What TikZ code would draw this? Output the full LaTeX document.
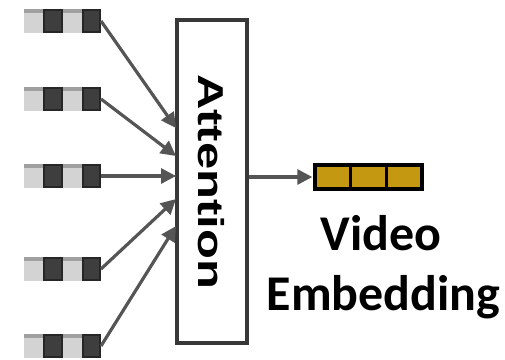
\documentclass[tikz,border=0pt]{standalone}
\usepackage{fontspec}
\usetikzlibrary{arrows.meta}
\newfontfamily\labelfont{Carlito}
\newfontfamily\boxfont{Liberation Sans}
\definecolor{lightcell}{HTML}{D3D3D3}
\definecolor{darkcell}{HTML}{3E3E3E}
\definecolor{edgegray}{HTML}{262626}
\definecolor{arrowgray}{HTML}{555555}
\definecolor{boxgray}{HTML}{383838}
\definecolor{gold}{HTML}{C59812}
\tikzset{
  tokenrow/.style={minimum width=77pt, minimum height=24pt, inner sep=0pt, outer sep=0pt,
    path picture={
      \foreach \k in {0,1,2,3}{
        \pgfmathtruncatemacro{\odd}{mod(\k,2)}
        \ifnum\odd=0
          \fill[lightcell] ([xshift=\k*19.25pt]path picture bounding box.south west) rectangle ++(19.25pt,24pt);
          \fill[gray!75] ([xshift=\k*19.25pt]path picture bounding box.north west) rectangle ++(19.25pt,-3.5pt);
        \else
          \fill[darkcell] ([xshift=\k*19.25pt]path picture bounding box.south west) rectangle ++(19.25pt,24pt);
          \draw[edgegray, line width=2pt] ([xshift=\k*19.25pt+1pt, yshift=1pt]path picture bounding box.south west) rectangle ++(17.25pt,22pt);
        \fi
      }
    }},
  featarrow/.style={draw=arrowgray, line width=3.2pt, -{Triangle[length=15pt, width=15pt]}},
  attbox/.style={draw=boxgray, line width=3.2pt, fill=white, minimum width=70pt, minimum height=323pt, inner sep=0pt},
  embrow/.style={draw=black, line width=3.4pt, minimum width=107pt, minimum height=24pt, inner sep=0pt,
    path picture={
      \fill[gold] (path picture bounding box.south west) rectangle (path picture bounding box.north east);
      \draw[black, line width=3.4pt] ([xshift=107pt/3]path picture bounding box.south west) -- ++(0,24pt);
      \draw[black, line width=3.4pt] ([xshift=2*107pt/3]path picture bounding box.south west) -- ++(0,24pt);
    }},
  caption/.style={font=\labelfont\bfseries\fontsize{50}{60}\selectfont, inner sep=0pt, anchor=base}
}
\begin{document}
\begin{tikzpicture}[x=1pt, y=-1pt]
  \useasboundingbox (0,0) rectangle (505,359);

  % input feature rows
  \node[tokenrow] (in1) at (62.5,21) {};
  \node[tokenrow] (in2) at (62.5,99) {};
  \node[tokenrow] (in3) at (62.5,176) {};
  \node[tokenrow] (in4) at (62.5,269) {};
  \node[tokenrow] (in5) at (62.5,346) {};

  % attention block
  \node[attbox] (att) at (212,181.5) {};
  \node[rotate=-90, inner sep=0pt] (attlabel) at (211.5,181.5)
    {\boxfont\bfseries\fontsize{36}{40}\selectfont\scalebox{1.36}[1]{Attention}};

  % landing points on the left side of the attention block
  \coordinate (t1) at (176,128);
  \coordinate (t2) at (176,156);
  \coordinate (t3) at (176,176);
  \coordinate (t4) at (176,199);
  \coordinate (t5) at (176,226);

  \draw[featarrow] (in1.east) -- (t1);
  \draw[featarrow] (in2.east) -- (t2);
  \draw[featarrow] (in3.east) -- (t3);
  \draw[featarrow] (in4.east) -- (t4);
  \draw[featarrow] (in5.east) -- (t5);

  % pooled video embedding
  \node[embrow] (emb) at (368.5,177) {};
  \draw[featarrow] (att.east |- emb.west) -- ([xshift=-1pt]emb.west);

  \node[caption] (cap1) at (381,250) {Video};
  \node[caption] (cap2) at (383.5,310) {Embedding};
\end{tikzpicture}
\end{document}
